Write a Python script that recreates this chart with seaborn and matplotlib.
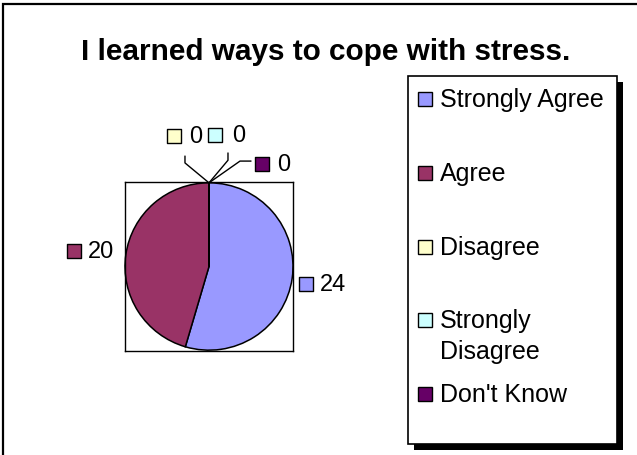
import seaborn as sns
import matplotlib.pyplot as plt
from matplotlib.patches import Rectangle

# Survey answers
categories = ["Strongly Agree", "Agree", "Disagree", "Strongly Disagree", "Don't Know"]
legend_labels = ["Strongly Agree", "Agree", "Disagree", "Strongly\nDisagree", "Don't Know"]
counts = [24, 20, 0, 0, 0]
title = "I learned ways to cope with stress."

# classic Excel pie colours
colors = sns.color_palette(["#9999FF", "#993366", "#FFFFCC", "#CCFFFF", "#660066"])

sns.set_theme(style="white")
plt.rcParams["font.family"] = ["Liberation Sans", "DejaVu Sans"]

W, H = 637, 456
fig = plt.figure(figsize=(W / 100, H / 100), dpi=100)


def fx(x):
    return x / W


def fy(y):
    return 1 - y / H


# outer chart border (right/bottom edges fall outside the picture)
fig.patches.append(Rectangle((fx(2.5), fy(470)), fx(700), (470 - 5) / H,
                             transform=fig.transFigure, fill=False,
                             edgecolor="black", linewidth=1.6, clip_on=False))

# pie inside its plot-area box
ax = fig.add_axes([fx(125), fy(352), fx(168), 169 / H])
ax.pie(counts, colors=colors, startangle=90, counterclock=False, frame=True,
       wedgeprops=dict(edgecolor="black", linewidth=1.1))
ax.set_aspect("auto")
ax.set_xlim(-1.0, 1.0)
ax.set_ylim(-1.01, 1.01)
ax.set_xticks([])
ax.set_yticks([])
for s in ax.spines.values():
    s.set_color("black")
    s.set_linewidth(1.0)

# data labels (Excel placed the zero-size ones by hand)
label_marker_xy = [(1.16, -0.21), (-1.61, 0.185), (-0.42, 1.56), (0.07, 1.57), (0.625, 1.23)]
label_text_x = [1.32, -1.44, -0.24, 0.27, 0.81]
leaders = [None, None,
           [(0, 1), (-0.286, 1.238), (-0.286, 1.32)],
           [(0, 1), (0.226, 1.27), (0.226, 1.357)],
           [(0, 1), (0.369, 1.26), (0.5, 1.26)]]

for i, v in enumerate(counts):
    mx, my = label_marker_xy[i]
    ax.scatter([mx], [my], marker="s", s=105, color=colors[i], edgecolors="black",
               linewidths=1.0, clip_on=False, zorder=5)
    ax.text(label_text_x[i], my, str(v), fontsize=17, ha="left", va="center",
            color="black", clip_on=False)
    if leaders[i] is not None:
        xs, ys = zip(*leaders[i])
        ax.plot(xs, ys, color="black", linewidth=1.0, clip_on=False, zorder=4)

# title
fig.text(fx(326), fy(52), title, fontsize=21.4, fontweight="bold",
         ha="center", va="center", color="black")

# legend box with shadow
fig.patches.append(Rectangle((fx(414), fy(451)), fx(209), (451 - 83) / H,
                             transform=fig.transFigure, facecolor="black",
                             edgecolor="black", linewidth=0))
fig.patches.append(Rectangle((fx(408), fy(445)), fx(209), (445 - 77) / H,
                             transform=fig.transFigure, facecolor="white",
                             edgecolor="black", linewidth=1.2))

slot0, slot_step, line_step = 100, 73.75, 31
for i, lab in enumerate(legend_labels):
    yc = slot0 + slot_step * i
    fig.patches.append(Rectangle((fx(417.5), fy(yc + 7)), fx(14), 14 / H,
                                 transform=fig.transFigure, facecolor=colors[i],
                                 edgecolor="black", linewidth=1.0))
    for j, line in enumerate(lab.split("\n")):
        fig.text(fx(440), fy(yc + line_step * j), line, fontsize=18,
                 ha="left", va="center", color="black")

plt.savefig("out.png", dpi=100)
